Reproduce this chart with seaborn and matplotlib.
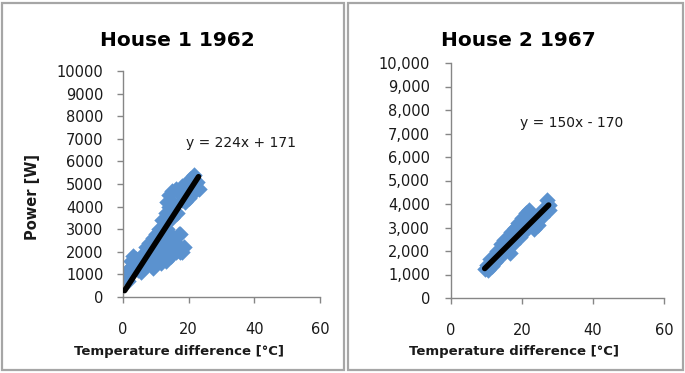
import matplotlib
matplotlib.use("Agg")
import matplotlib.pyplot as plt
from matplotlib.patches import Rectangle
import seaborn as sns
import pandas as pd
import numpy as np

# ---------------- data ----------------
house1_x = [0.5, 1, 1.5, 2, 2.5, 3, 3.5, 4, 4.5, 5, 5.5, 6, 6.5, 7, 7.5, 8, 8.5, 9, 9,
            9.5, 10, 10.5, 11, 11, 11.5, 12, 12, 12.5, 13, 13, 13.5, 14, 14, 14.5, 15,
            15, 15.5, 16, 16, 16.5, 17, 17, 17.5, 18, 18, 18.5, 19, 19.5, 20, 20.5, 21,
            21.5, 22, 22.5, 23, 16, 13.5, 15, 10, 12, 18, 17.5, 16.5, 14, 19, 20, 22]
house1_y = [950, 1100, 700, 1300, 1600, 1800, 1400, 1700, 1200, 1500, 1100, 1900, 1300,
            2200, 1500, 2400, 1700, 2600, 1300, 2000, 2800, 1600, 3000, 2300, 1500, 1900,
            3400, 2600, 1600, 3700, 4200, 2200, 4500, 1800, 2700, 4700, 4100, 2000, 4800,
            3700, 2800, 4600, 2000, 4300, 4900, 2200, 4500, 5000, 4700, 5200, 4900, 5400,
            4700, 5100, 4800, 2400, 3000, 3500, 2100, 2900, 2000, 2800, 2300, 4000, 4200,
            4400, 5000]

house2_x = [9.5, 10, 10.5, 11, 11.5, 12, 12.5, 13, 13.5, 14, 14.5, 15, 15.5, 16, 16.5,
            17, 17.5, 18, 18.5, 19, 19.5, 20, 20.5, 21, 21.5, 22, 22.5, 23, 24, 24.5, 25,
            25.5, 26, 26.5, 27, 27.5, 27.5, 23.5]
house2_y = [1250, 1400, 1200, 1650, 1350, 1800, 1550, 2000, 1700, 2300, 1900, 2450, 2050,
            2600, 1900, 2800, 2300, 3000, 2500, 3200, 2600, 3400, 2800, 3600, 3000, 3750,
            3100, 3400, 3300, 3100, 3600, 3450, 3800, 3650, 4150, 3750, 3950, 2950]

titles = ["House 1 1962", "House 2 1967"]
slopes = [224, 150]
intercepts = [171, -170]
equations = ["y = 224x + 171", "y = 150x - 170"]
x_ticks = [0, 20, 40, 60]
y_ticks = [0, 1000, 2000, 3000, 4000, 5000, 6000, 7000, 8000, 9000, 10000]

# ---------------- style ----------------
sns.set_theme(style="white")
plt.rcParams['font.family'] = ['DejaVu Sans']

W, H = 685, 373
fig = plt.figure(figsize=(W / 100, H / 100), dpi=100)

# panel frames
for (x0, x1) in [(2, 344), (348, 683)]:
    fig.add_artist(Rectangle((x0 / W, 3 / H), (x1 - x0) / W, (370 - 3) / H,
                             transform=fig.transFigure, fill=False,
                             edgecolor="#A6A6A6", linewidth=1.6))

axes_px = [(123, 320, 297, 71), (451, 664, 298, 63)]
datasets = [(house1_x, house1_y), (house2_x, house2_y)]
text_pos = [(36, 6800), (34, 7430)]
title_x = [177, 518]
xlabel_x = [179, 514]

blue = "#5B92CF"
grey = "#868686"
txt = "#1a1a1a"

for i in range(2):
    l, r, b, t = axes_px[i]
    ax = fig.add_axes([l / W, 1 - b / H, (r - l) / W, (b - t) / H])
    xs, ys = datasets[i]
    df = pd.DataFrame({"x": xs, "y": ys})
    sns.scatterplot(data=df, x="x", y="y", ax=ax, marker="D", s=70,
                    color=blue, edgecolor=blue, linewidth=0, zorder=2, legend=False)
    xmin, xmax = min(xs), max(xs)
    line_x = [xmin, xmax]
    line_y = [slopes[i] * v + intercepts[i] for v in line_x]
    sns.lineplot(x=line_x, y=line_y, ax=ax, color="black", linewidth=4,
                 zorder=3, legend=False)
    ax.set_xlim(0, 60)
    ax.set_ylim(0, 10000)
    ax.set_xticks(x_ticks)
    ax.set_yticks(y_ticks)
    if i == 0:
        ax.set_yticklabels([str(v) for v in y_ticks])
    else:
        ax.set_yticklabels([f"{v:,}" for v in y_ticks])
    ax.set_xticklabels([str(v) for v in x_ticks])
    for side in ["top", "right"]:
        ax.spines[side].set_visible(False)
    for side in ["left", "bottom"]:
        ax.spines[side].set_color(grey)
        ax.spines[side].set_linewidth(1)
    ax.tick_params(axis="y", direction="out", length=4, width=1, color=grey,
                   labelsize=10.5, pad=10 if i == 0 else 11, labelcolor=txt)
    ax.tick_params(axis="x", direction="out", length=4, width=1, color=grey,
                   labelsize=10.5, pad=14, labelcolor=txt)
    ax.tick_params(left=True, bottom=True)
    ax.set_xlabel("")
    ax.set_ylabel("")
    fig.text(xlabel_x[i] / W, 1 - 352 / H, "Temperature difference [°C]",
             fontsize=9.5, fontweight="bold", color=txt, ha="center", va="center")
    if i == 0:
        fig.text(33 / W, 1 - 197 / H, "Power [W]", fontsize=10.5, fontweight="bold",
                 color=txt, rotation=90, ha="center", va="center")
    ax.text(text_pos[i][0], text_pos[i][1], equations[i], fontsize=10,
            ha="center", va="center", color=txt)
    fig.text(title_x[i] / W, 1 - 40 / H, titles[i], fontsize=14.5, fontweight="bold",
             ha="center", va="center", color="black")
    ax.set_facecolor("white")

fig.savefig("out.png", dpi=100)
